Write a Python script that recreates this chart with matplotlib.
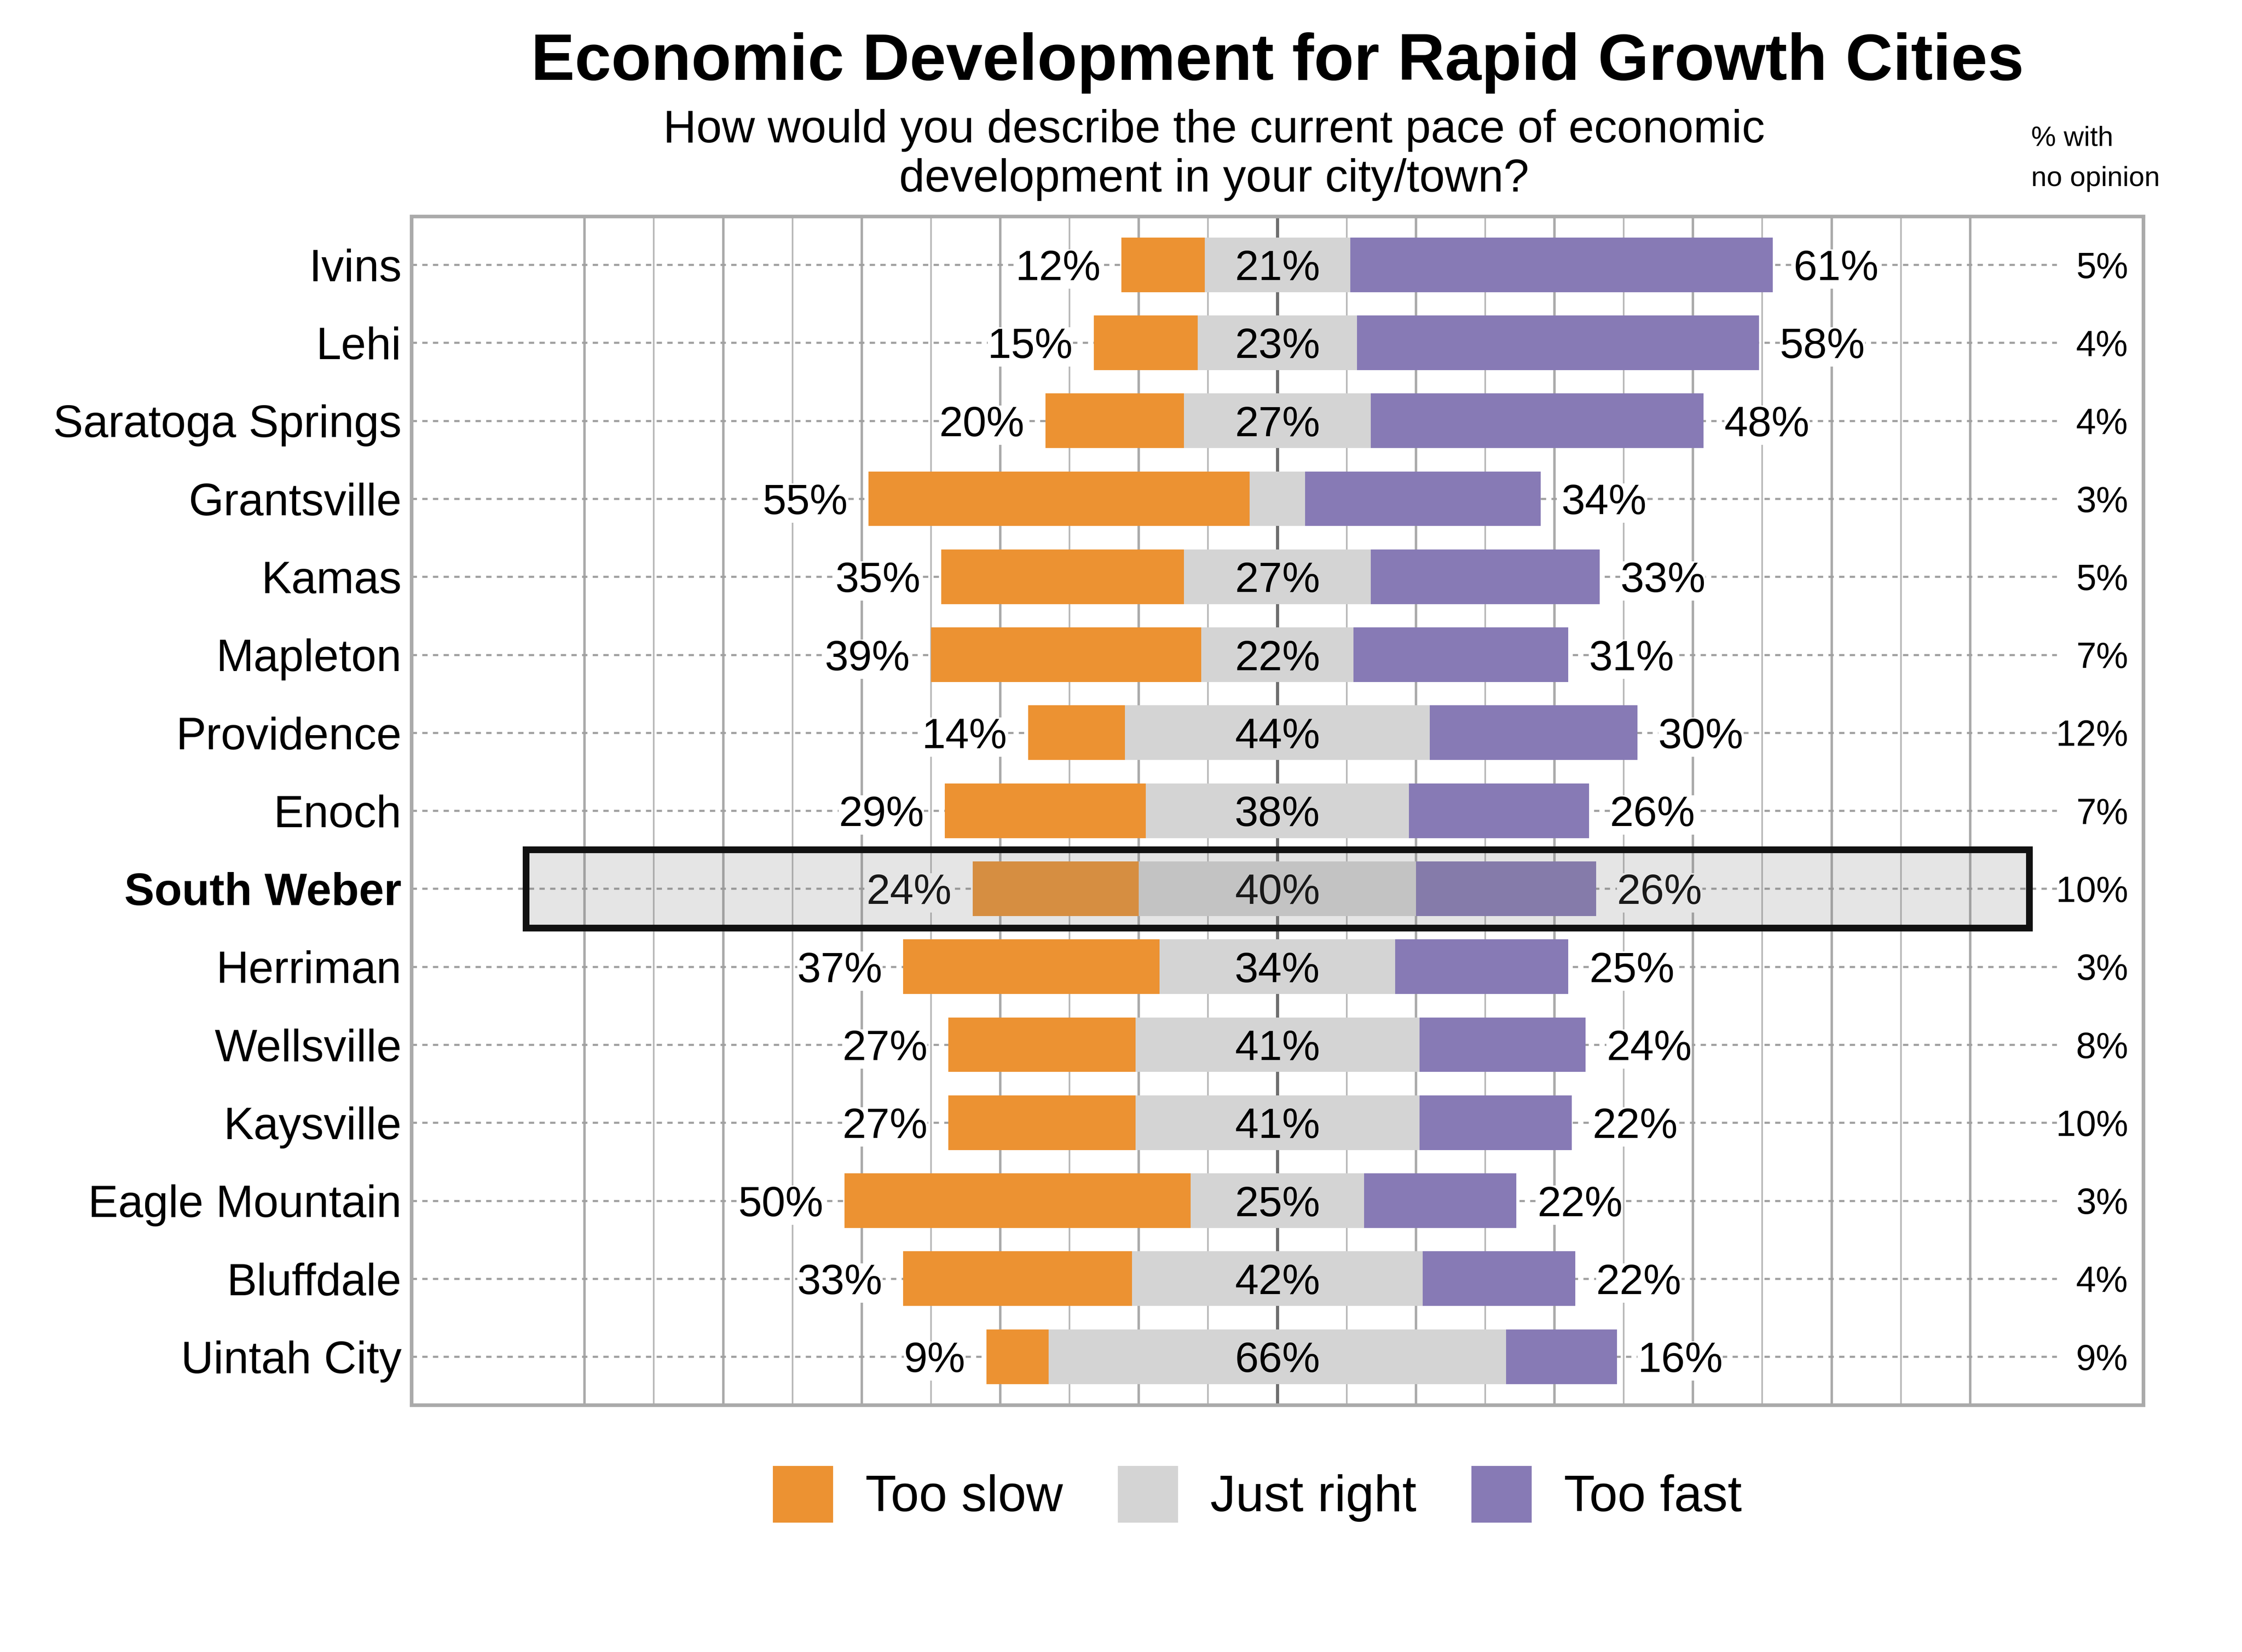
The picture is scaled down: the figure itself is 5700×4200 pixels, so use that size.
import matplotlib
matplotlib.use("Agg")
import numpy as np
from matplotlib import pyplot as plt
from matplotlib.patches import Rectangle, Patch

plt.rcParams['font.family'] = ['Liberation Sans', 'DejaVu Sans']

cities = ['Ivins', 'Lehi', 'Saratoga Springs', 'Grantsville', 'Kamas', 'Mapleton',
          'Providence', 'Enoch', 'South Weber', 'Herriman', 'Wellsville',
          'Kaysville', 'Eagle Mountain', 'Bluffdale', 'Uintah City']
too_slow = [12, 15, 20, 55, 35, 39, 14, 29, 24, 37, 27, 27, 50, 33, 9]
just_right = [21, 23, 27, 8, 27, 22, 44, 38, 40, 34, 41, 41, 25, 42, 66]
too_fast = [61, 58, 48, 34, 33, 31, 30, 26, 26, 25, 24, 22, 22, 22, 16]
no_opinion = [5, 4, 4, 3, 5, 7, 12, 7, 10, 3, 8, 10, 3, 4, 9]
highlight = 'South Weber'

c_slow = '#EC9232'
c_right = '#D4D4D4'
c_fast = '#877AB5'

slow = np.array(too_slow)
jr = np.array(just_right)
fast = np.array(too_fast)
y = np.arange(len(cities))

fig = plt.figure(figsize=(19, 14), dpi=300)
ax = fig.add_axes([0.1835, 0.1495, 0.7725, 0.7195])
ax.set_xlim(-125, 125)
ax.set_ylim(len(cities) - 0.38, -0.62)

# vertical grid (only -100..100)
for v in range(-100, 101, 10):
    if v == 0:
        ax.axvline(v, color='#6E6E6E', lw=1.9, zorder=0.7)
    elif v % 20 == 0:
        ax.axvline(v, color='#AAAAAA', lw=1.5, zorder=0.5)
    else:
        ax.axvline(v, color='#B8B8B8', lw=1.0, zorder=0.5)

# dotted row lines
ax.hlines(y, -125, 112.5, color='#A0A0A0', lw=1.3, linestyles=(0, (2.5, 2.5)), zorder=0.6)

h = 0.7
ax.barh(y, slow, left=-jr / 2 - slow, height=h, color=c_slow, zorder=2)
ax.barh(y, jr, left=-jr / 2, height=h, color=c_right, zorder=2)
ax.barh(y, fast, left=jr / 2, height=h, color=c_fast, zorder=2)

box = dict(facecolor='white', edgecolor='none', pad=0)
for i in range(len(cities)):
    ax.text(-jr[i] / 2 - slow[i] - 3, i, f'{slow[i]}%', ha='right', va='center_baseline',
            fontsize=26, bbox=box, zorder=3)
    ax.text(jr[i] / 2 + fast[i] + 3, i, f'{fast[i]}%', ha='left', va='center_baseline',
            fontsize=26, bbox=box, zorder=3)
    if jr[i] >= 10:
        ax.text(0, i, f'{jr[i]}%', ha='center', va='center_baseline', fontsize=26, zorder=3)
    ax.text(122.8, i, f'{no_opinion[i]}%', ha='right', va='center_baseline',
            fontsize=22, zorder=3)

# highlight row
hi = cities.index(highlight)
ax.add_patch(Rectangle((-108.5, hi - 0.5), 217, 1.0, facecolor=(0.5, 0.5, 0.5, 0.2),
                       edgecolor='#111111', lw=4.1, zorder=5))

ax.set_yticks(y)
ax.set_yticklabels(cities, fontsize=27.5)
for lab in ax.get_yticklabels():
    if lab.get_text() == highlight:
        lab.set_fontweight('bold')
ax.set_xticks([])
ax.tick_params(axis='y', length=0, pad=6)
for s in ax.spines.values():
    s.set_color('#AAAAAA')
    s.set_linewidth(2.2)

fig.text(0.5698, 0.9517, 'Economic Development for Rapid Growth Cities', ha='center',
         va='baseline', fontsize=40, fontweight='bold')
fig.text(0.5415, 0.9138, 'How would you describe the current pace of economic',
         ha='center', va='baseline', fontsize=28)
fig.text(0.5415, 0.884, 'development in your city/town?', ha='center', va='baseline',
         fontsize=28)
fig.text(0.906, 0.9117, '% with', ha='left', va='baseline', fontsize=17)
fig.text(0.906, 0.8874, 'no opinion', ha='left', va='baseline', fontsize=17)

handles = [Patch(color=c_slow), Patch(color=c_right), Patch(color=c_fast)]
fig.legend(handles, ['Too slow', 'Just right', 'Too fast'], loc='center',
           bbox_to_anchor=(0.561, 0.0955), ncol=3, frameon=False, fontsize=31,
           handlelength=1.15, handleheight=1.3, handletextpad=0.65, columnspacing=1.1)

fig.savefig('out.png', dpi=300)
